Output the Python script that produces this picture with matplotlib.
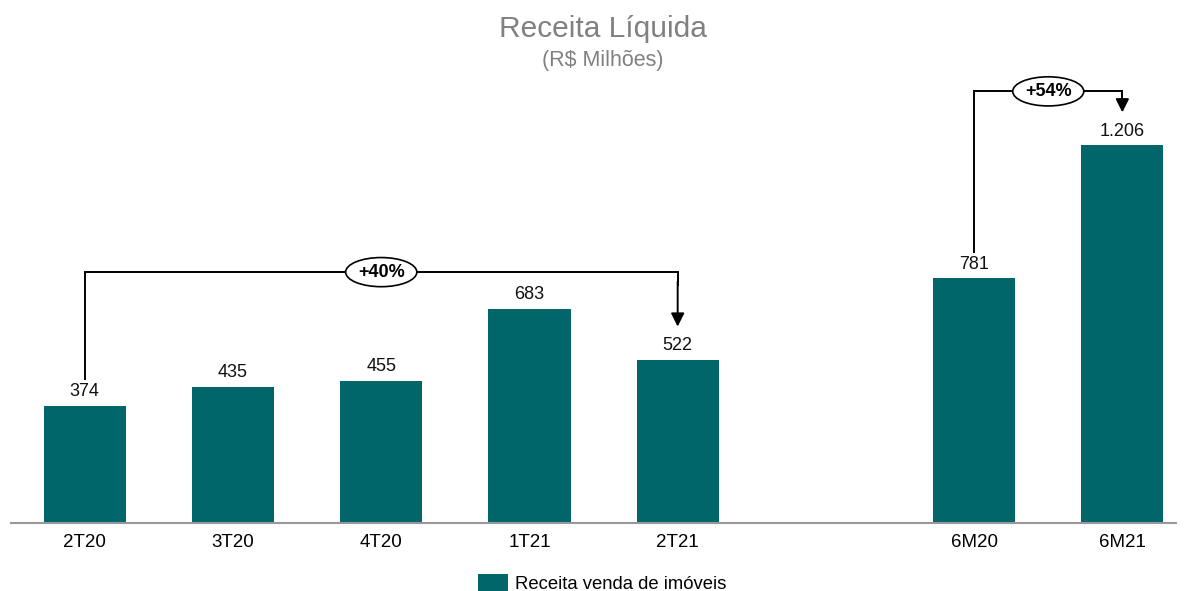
import numpy as np
import matplotlib.pyplot as plt

plt.rcParams['font.family'] = ['Liberation Sans', 'DejaVu Sans']

# -------------------------------------------------- dados -------------------------------------------------
periods = ["2T20", "3T20", "4T20", "1T21", "2T21", "6M20", "6M21"]
revenue = [374, 435, 455, 683, 522, 781, 1206]
value_labels = ["374", "435", "455", "683", "522", "781", "1.206"]
positions = [0, 1, 2, 3, 4, 6, 7]

# (from index, to index, label)
growth = [(0, 4, "+40%"), (5, 6, "+54%")]
bracket_levels = [801, 1378]

bar_color = "#00666a"

# -------------------------------------------------- wykres -------------------------------------------------
fig = plt.figure(figsize=(11.84, 5.91), dpi=100)
ax = fig.add_axes([0.009, 0.115, 0.984, 0.75])

ax.bar(positions, revenue, width=0.555, color=bar_color, label="Receita venda de imóveis")

for x, v, lab in zip(positions, revenue, value_labels):
    ax.text(x, v + 18, lab, ha="center", va="bottom", fontsize=13, color="#111111")

for (i, j, lab), level in zip(growth, bracket_levels):
    x0, x1 = positions[i], positions[j]
    v0, v1 = revenue[i], revenue[j]
    ax.plot([x0, x0, x1, x1], [v0 + 85, level, level, level - 40], color="black", lw=1.4,
            solid_joinstyle="miter")
    ax.annotate("", xy=(x1, v1 + 105), xytext=(x1, level - 30),
                arrowprops=dict(arrowstyle="-|>", color="black", lw=1.4, mutation_scale=20,
                                shrinkA=0, shrinkB=0))
    ax.text((x0 + x1) / 2, level, lab, ha="center", va="center",
            fontsize=13, fontweight="bold",
            bbox=dict(boxstyle="ellipse,pad=0.1", fc="white", ec="black", lw=1.2))

ax.set_xlim(-0.5, 7.36)
ax.set_ylim(0, 1415)
ax.set_xticks(positions)
ax.set_xticklabels(periods, fontsize=13.5)
ax.tick_params(axis="x", length=0, pad=8)
ax.set_yticks([])
for s in ["left", "right", "top"]:
    ax.spines[s].set_visible(False)
ax.spines["bottom"].set_color("#999999")
ax.spines["bottom"].set_linewidth(1.5)

fig.text(0.509, 0.951, "Receita Líquida", ha="center", va="center", fontsize=21.5, color="#808080")
fig.text(0.509, 0.898, "(R$ Milhões)", ha="center", va="center", fontsize=15.5, color="#808080")

fig.legend(loc="lower center", bbox_to_anchor=(0.509, -0.032), frameon=False, fontsize=13.3,
           handlelength=1.6, handleheight=1.1, handletextpad=0.4)

fig.savefig("out.png", dpi=100)
